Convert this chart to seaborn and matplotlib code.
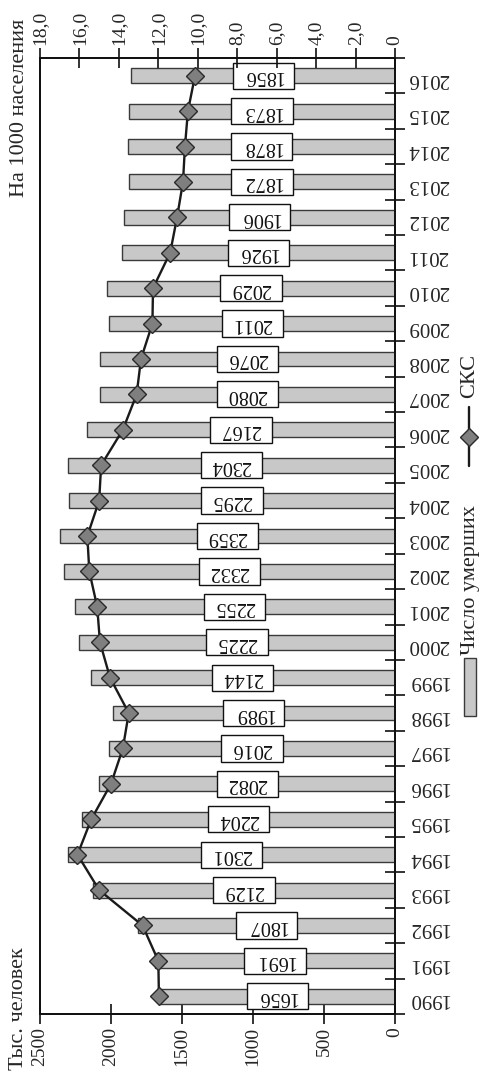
import numpy as np
import pandas as pd
import matplotlib
matplotlib.use("Agg")
import matplotlib.pyplot as plt
import seaborn as sns
from matplotlib.path import Path
from matplotlib.patches import Rectangle
from matplotlib.lines import Line2D

# ---------------- data ----------------
years = ["1990", "1991", "1992", "1993", "1994", "1995", "1996", "1997", "1998",
         "1999", "2000", "2001", "2002", "2003", "2004", "2005", "2006", "2007",
         "2008", "2009", "2010", "2011", "2012", "2013", "2014", "2015", "2016"]
deaths = [1656, 1691, 1807, 2129, 2301, 2204, 2082, 2016, 1989,
          2144, 2225, 2255, 2332, 2359, 2295, 2304, 2167, 2080,
          2076, 2011, 2029, 1926, 1906, 1872, 1878, 1873, 1856]
ckc = [11.97, 12.0, 12.8, 15.0, 16.1, 15.4, 14.4, 13.8, 13.5,
       14.45, 14.96, 15.1, 15.5, 15.6, 15.0, 14.9, 13.8, 13.1,
       12.88, 12.3, 12.27, 11.4, 11.05, 10.75, 10.65, 10.5, 10.14]
deaths_ticks = [0, 500, 1000, 1500, 2000, 2500]
ckc_ticks = [0, 2, 4, 6, 8, 10, 12, 14, 16, 18]
ckc_tick_labels = ["0", "2,0", "4,0", "6,0", "8,0", "10,0", "12,0", "14,0", "16,0", "18,0"]
label_deaths = "Число умерших"
label_ckc = "СКС"
title_left = "Тыс. человек"
title_right = "На 1000 населения"

df = pd.DataFrame({"year": years, "deaths": deaths, "ckc": ckc})
order = years[::-1]               # 2016 at top, 1990 at bottom
df["pos"] = [order.index(y) for y in df["year"]]

# ---------------- style ----------------
sns.set_style("ticks")
plt.rcParams["font.family"] = ["Liberation Serif", "DejaVu Serif"]
plt.rcParams["axes.linewidth"] = 1.3
plt.rcParams["axes.edgecolor"] = "#111111"

W, H = 483, 1078
fig = plt.figure(figsize=(W / 100, H / 100), dpi=100)
fig.subplots_adjust(left=40 / W, right=395 / W, top=1 - 58 / H, bottom=1 - 1014 / H)
ax = fig.add_subplot(111)

BAR = "#c8c8c8"
EDGE = "#3a3a3a"

sns.barplot(data=df, x="deaths", y="year", order=order, orient="h",
            color=BAR, saturation=1, edgecolor=EDGE, linewidth=1.0,
            width=0.42, ax=ax)
ax.set_xlim(2500, 0)


def wide_box(x0, y0, width, height, mutation_size):
    px = 0.52 * mutation_size
    py = 0.18 * mutation_size
    x0, y0 = x0 - px, y0 - py
    x1, y1 = x0 + width + 2 * px, y0 + height + 2 * py
    return Path([(x0, y0), (x1, y0), (x1, y1), (x0, y1), (x0, y0)], closed=True)


ax.bar_label(ax.containers[0], labels=[str(v) for v in df.set_index("year").loc[order, "deaths"]],
             label_type="center", rotation=180, fontsize=14.5, color="#111111",
             bbox=dict(boxstyle=wide_box, facecolor="white", edgecolor="#111111", linewidth=1.0))

# value axis (bottom)
ax.set_xticks(deaths_ticks, [str(t) for t in deaths_ticks])
ax.tick_params(axis="x", which="major", direction="inout", length=15, width=1.2,
               labelrotation=90, labelsize=14, pad=2, color="#111111")

# category axis (right)
ax.yaxis.tick_right()
ax.tick_params(axis="y", which="major", length=0, labelrotation=180, labelsize=15,
               pad=9, labelright=True, labelleft=False)
ax.set_yticks(np.arange(-0.5, len(years), 1.0), minor=True)
ax.tick_params(axis="y", which="minor", direction="inout", length=15, width=1.2,
               right=True, left=False, color="#111111")
ax.set_xlabel("")
ax.set_ylabel("")

# secondary axis (top) for СКС
ax2 = ax.twiny()
sns.lineplot(data=df, x="ckc", y="pos", orient="y", sort=False, estimator=None,
             ax=ax2, color="#1a1a1a", linewidth=1.7, marker="D", markersize=8.7,
             markerfacecolor="#7f7f7f", markeredgecolor="#2a2a2a",
             markeredgewidth=1.0, legend=False)
ax2.set_xlim(18, 0)
ax2.set_xticks(ckc_ticks, ckc_tick_labels)
ax2.tick_params(axis="x", direction="inout", length=15, width=1.2,
                labelrotation=90, labelsize=14, pad=2, color="#111111")
ax2.set_xlabel("")
ax2.set_ylabel("")
ax.set_ylim(len(years) - 0.5, -0.5)
for a in (ax, ax2):
    for s in a.spines.values():
        s.set_visible(True)
        s.set_linewidth(1.3)
        s.set_color("#111111")

# titles
fig.text(18.5 / W, 1 - 1070 / H, title_left, rotation=90, ha="center", va="bottom", fontsize=16)
fig.text(19.5 / W, 1 - 197 / H, title_right, rotation=90, ha="center", va="bottom", fontsize=16)

# legend (rotated, drawn manually)
fig.add_artist(Rectangle((464 / W, 1 - 716 / H), 12 / W, 58 / H, transform=fig.transFigure,
                         facecolor=BAR, edgecolor=EDGE, linewidth=1.0))
fig.text(470 / W, 1 - 655 / H, label_deaths, rotation=90, ha="center", va="bottom", fontsize=16)
fig.add_artist(Line2D([469 / W, 469 / W], [1 - 466 / H, 1 - 407 / H], transform=fig.transFigure,
                      color="#1a1a1a", linewidth=1.7))
fig.add_artist(Line2D([469 / W], [1 - 437 / H], transform=fig.transFigure, marker="D",
                      markersize=8.7, markerfacecolor="#7f7f7f", markeredgecolor="#2a2a2a",
                      markeredgewidth=1.0, linestyle="none"))
fig.text(470 / W, 1 - 398 / H, label_ckc, rotation=90, ha="center", va="bottom", fontsize=16)

fig.savefig("out.png", dpi=100)
